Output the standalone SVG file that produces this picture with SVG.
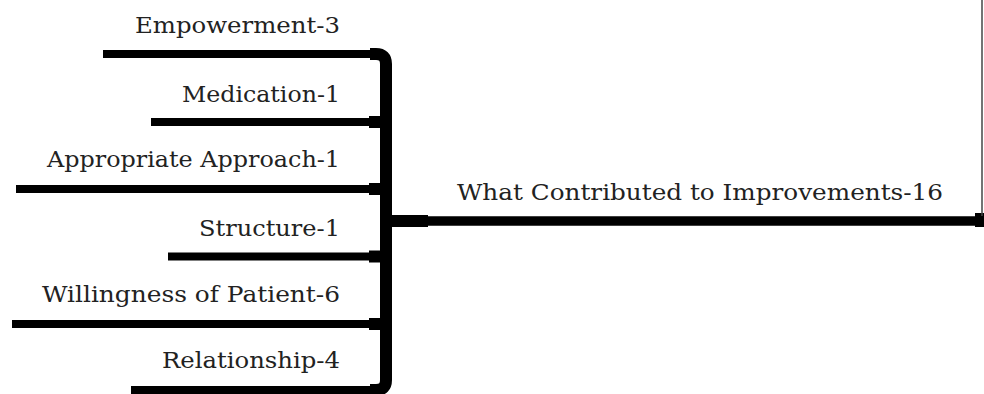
<svg xmlns="http://www.w3.org/2000/svg" width="984" height="394" viewBox="0 0 984 394">
  <style>
    .lbl { font-family: "DejaVu Serif", "Liberation Serif", serif; font-size: 23px; fill: #222; }
    .branch { stroke: #000; stroke-width: 8; fill: none; }
    .stub { fill: #000; }
  </style>
  <rect width="984" height="394" fill="#fff"/>
  <g id="connectors">
    <path d="M 370 54 H 376 Q 386 54 386 64 V 380 Q 386 390 376 390 H 370" stroke="#000" stroke-width="12" fill="none"/>
    <line x1="103" y1="54" x2="380" y2="54" class="branch"/>
    <line x1="151" y1="122" x2="386" y2="122" class="branch"/>
    <line x1="16" y1="189" x2="386" y2="189" class="branch"/>
    <line x1="168" y1="256.5" x2="386" y2="256.5" class="branch"/>
    <line x1="12" y1="324" x2="386" y2="324" class="branch"/>
    <line x1="131" y1="390" x2="380" y2="390" class="branch"/>
    <rect class="stub" x="369" y="116" width="15" height="12"/>
    <rect class="stub" x="369" y="183" width="15" height="12"/>
    <rect class="stub" x="369" y="250.5" width="15" height="12"/>
    <rect class="stub" x="369" y="318" width="15" height="12"/>
    <line x1="386" y1="221" x2="982" y2="221" stroke="#000" stroke-width="9.5"/>
    <rect class="stub" x="386" y="215" width="42" height="12"/>
    <rect class="stub" x="975" y="213" width="9" height="14"/>
    <line x1="982" y1="0" x2="982" y2="216" stroke="#444" stroke-width="1.5"/>
  </g>
  <g id="node-root"><text class="lbl" x="457" y="200" textLength="486" lengthAdjust="spacingAndGlyphs">What Contributed to Improvements-16</text></g>
  <g id="node-empowerment"><text class="lbl" x="135" y="33" textLength="205" lengthAdjust="spacingAndGlyphs">Empowerment-3</text></g>
  <g id="node-medication"><text class="lbl" x="182" y="102" textLength="158" lengthAdjust="spacingAndGlyphs">Medication-1</text></g>
  <g id="node-approach"><text class="lbl" x="47" y="167" textLength="293" lengthAdjust="spacingAndGlyphs">Appropriate Approach-1</text></g>
  <g id="node-structure"><text class="lbl" x="199" y="236" textLength="141" lengthAdjust="spacingAndGlyphs">Structure-1</text></g>
  <g id="node-willingness"><text class="lbl" x="42" y="302" textLength="298" lengthAdjust="spacingAndGlyphs">Willingness of Patient-6</text></g>
  <g id="node-relationship"><text class="lbl" x="162" y="368" textLength="178" lengthAdjust="spacingAndGlyphs">Relationship-4</text></g>
</svg>
